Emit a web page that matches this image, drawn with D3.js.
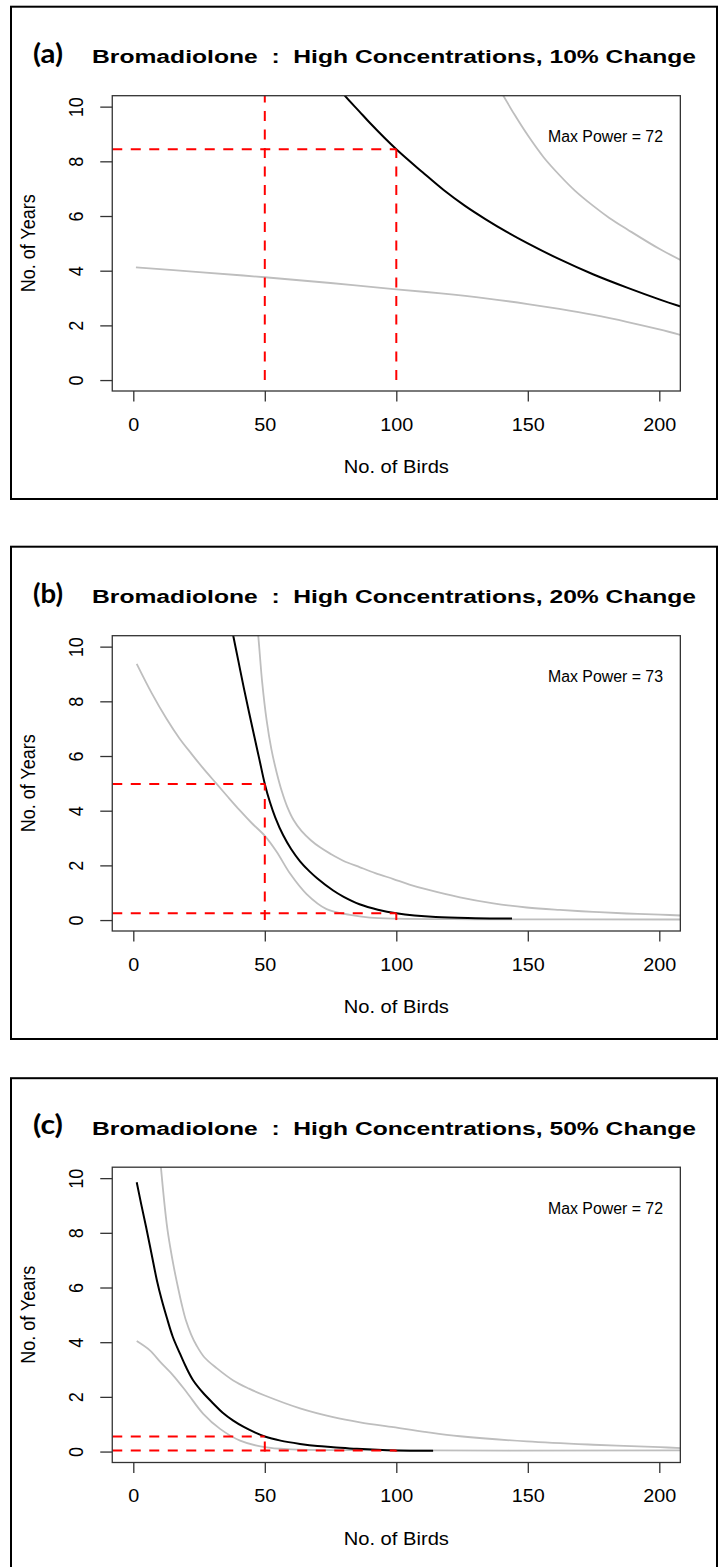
<!DOCTYPE html>
<html>
<head>
<meta charset="utf-8">
<script src="https://cdn.jsdelivr.net/npm/d3@7/dist/d3.min.js"></script>
<style>
  html, body { margin: 0; padding: 0; background: #fff; }
  svg { display: block; }
  text { font-family: "Liberation Sans", Arial, sans-serif; fill: #000; }
</style>
</head>
<body>
<svg id="chart" width="720" height="1567"></svg>
<script>
// Panel headings
const panelLetters = ["(a)", "(b)", "(c)"];
const panelTitles = [
  "Bromadiolone  :  High Concentrations, 10% Change",
  "Bromadiolone  :  High Concentrations, 20% Change",
  "Bromadiolone  :  High Concentrations, 50% Change"
];
const maxPower = [72, 73, 72];

// Axis ticks
const xTicks = [0, 50, 100, 150, 200];
const yTicks = [0, 2, 4, 6, 8, 10];

// (a) 10% change: [no. of birds, no. of years]
const meanA = [[75, 11.1], [80, 10.45], [86, 9.82], [90, 9.4], [100, 8.44], [110, 7.6], [118, 6.95],
  [126, 6.38], [134, 5.88], [142, 5.42], [150, 5.0], [162, 4.42], [175, 3.86], [188, 3.37], [200, 2.95], [210, 2.63]];
const upperA = [[137, 11.0], [140.7, 10.4], [145, 9.7], [150, 8.95], [156, 8.15], [162, 7.5], [168, 6.92],
  [175, 6.36], [181, 5.93], [188, 5.5], [200, 4.8], [210, 4.3]];
const lowerA = [[1, 4.12], [25, 3.95], [50, 3.76], [75, 3.55], [100, 3.32], [117, 3.17], [134, 2.99],
  [150, 2.78], [162, 2.6], [175, 2.38], [188, 2.12], [200, 1.85], [210, 1.6]];
const targetBirdsA = [50, 100];
const targetYearsA = [14, 8.44];

// (b) 20% change
const meanB = [[36, 11.35], [38, 10.4], [40, 9.45], [42, 8.5], [44, 7.6], [46, 6.72], [48, 5.85], [50, 4.98],
  [52, 4.3], [54, 3.75], [57, 3.1], [60, 2.6], [63.4, 2.15], [67, 1.78], [70, 1.52], [76, 1.08], [80, 0.85],
  [86, 0.58], [93, 0.38], [100, 0.25], [115, 0.11], [130, 0.07], [144, 0.06]];
const upperB = [[46.5, 11.3], [47.5, 10.4], [49, 8.7], [50.7, 7.3], [52.5, 6.25], [54.5, 5.4], [56.5, 4.7],
  [58.5, 4.15], [61, 3.65], [64, 3.25], [67.5, 2.92], [71, 2.66], [75, 2.42], [79.8, 2.17], [86.2, 1.93],
  [92, 1.72], [98.9, 1.5], [105, 1.3], [111.6, 1.12], [124.2, 0.83], [136.9, 0.61], [149.6, 0.46],
  [162.2, 0.37], [174.9, 0.30], [187.6, 0.24], [200.3, 0.2], [210, 0.16]];
const lowerB = [[1.3, 9.37], [7, 8.3], [12.7, 7.35], [17.5, 6.65], [22.2, 6.07], [27, 5.5], [31.7, 4.98],
  [36, 4.5], [40.6, 4.0], [45, 3.55], [50, 3.08], [54.5, 2.5], [59.6, 1.7], [65.9, 0.95], [73.5, 0.4],
  [82.4, 0.19], [90, 0.09], [100, 0.05], [130, 0.03], [210, 0.02]];
const targetBirdsB = [50, 100];
const targetYearsB = [4.98, 0.25];

// (c) 50% change
const meanC = [[1.3, 9.85], [3, 9.05], [5, 8.15], [7, 7.2], [9, 6.25], [10.8, 5.55], [12.7, 4.91], [15, 4.2],
  [17.8, 3.57], [20, 3.1], [22.8, 2.6], [26.5, 2.15], [30.5, 1.75], [34, 1.42], [38, 1.13], [42, 0.9],
  [46, 0.71], [50, 0.55], [56, 0.4], [63.4, 0.28], [70, 0.2], [76, 0.16], [85, 0.1], [100, 0.04], [114, 0.03]];
const upperC = [[10, 11.0], [10.5, 10.4], [12.7, 8.33], [14, 7.5], [15.5, 6.7], [17, 6.0], [18.5, 5.35],
  [20, 4.8], [22, 4.28], [24.1, 3.87], [27, 3.45], [31.7, 3.05], [38, 2.6], [44, 2.3], [50, 2.05],
  [63.4, 1.58], [76, 1.26], [86.2, 1.07], [98.9, 0.89], [111.6, 0.71], [124.2, 0.56], [149.6, 0.37],
  [174.9, 0.25], [200.3, 0.16], [210, 0.12]];
const lowerC = [[1.3, 4.04], [6.3, 3.7], [10.5, 3.25], [15.2, 2.78], [20.3, 2.17], [26.6, 1.38], [33, 0.83],
  [40.6, 0.4], [50, 0.16], [60, 0.08], [80, 0.05], [210, 0.04]];
const targetBirdsC = [50, 100];
const targetYearsC = [0.55, 0.04];

const panels = [
  { mean: meanA, upper: upperA, lower: lowerA, birds: targetBirdsA, years: targetYearsA },
  { mean: meanB, upper: upperB, lower: lowerB, birds: targetBirdsB, years: targetYearsB },
  { mean: meanC, upper: upperC, lower: lowerC, birds: targetBirdsC, years: targetYearsC }
];

const svg = d3.select("#chart");
const offsets = [0, 540, 1071.5];
const stretch = 1.1;

// Shared scales (R-style 4% padding around 0..200 and 0..10)
const x = d3.scaleLinear().domain([-8, 208]).range([112.26, 680.34]);
const y = d3.scaleLinear().domain([-0.4, 10.4]).range([391, 95.7]);

const line = d3.line()
  .x(d => x(d[0]))
  .y(d => y(d[1]))
  .curve(d3.curveCatmullRom.alpha(0.5));

panels.forEach((p, i) => {
  const g = svg.append("g").attr("transform", `translate(0,${offsets[i]})`);

  // outer frame
  g.append("rect")
    .attr("x", 11).attr("y", 6.7)
    .attr("width", 706).attr("height", i === 2 ? 600 : 492.3)
    .attr("fill", "none").attr("stroke", "#000").attr("stroke-width", 2);

  // headings
  g.append("text")
    .attr("x", 33).attr("y", 62.5)
    .style("font-family", "Lato, 'Open Sans', sans-serif")
    .style("font-weight", "bold")
    .style("font-size", "26px")
    .attr("textLength", 30).attr("lengthAdjust", "spacingAndGlyphs")
    .text(panelLetters[i]);

  g.append("text")
    .attr("x", 92).attr("y", 63)
    .style("font-weight", "bold")
    .style("font-size", "18px")
    .style("white-space", "pre")
    .attr("textLength", 604).attr("lengthAdjust", "spacingAndGlyphs")
    .text(panelTitles[i]);

  // clip for plot region
  const clipId = `clip-${i}`;
  g.append("clipPath").attr("id", clipId)
    .append("rect")
    .attr("x", x.range()[0]).attr("y", y.range()[1])
    .attr("width", x.range()[1] - x.range()[0])
    .attr("height", y.range()[0] - y.range()[1]);

  const plot = g.append("g").attr("clip-path", `url(#${clipId})`);

  plot.append("path").datum(p.lower)
    .attr("d", line).attr("fill", "none")
    .attr("stroke", "#bebebe").attr("stroke-width", 1.8);
  plot.append("path").datum(p.upper)
    .attr("d", line).attr("fill", "none")
    .attr("stroke", "#bebebe").attr("stroke-width", 1.8);
  plot.append("path").datum(p.mean)
    .attr("d", line).attr("fill", "none")
    .attr("stroke", "#000").attr("stroke-width", 2);

  // dashed guides from each target flock size to the years needed
  p.birds.forEach((b, k) => {
    const yr = p.years[k];
    plot.append("line")
      .attr("x1", x(-8)).attr("x2", x(b))
      .attr("y1", y(yr)).attr("y2", y(yr))
      .attr("stroke", "#ff0000").attr("stroke-width", 2)
      .attr("stroke-dasharray", "10,8.5");
    plot.append("line")
      .attr("x1", x(b)).attr("x2", x(b))
      .attr("y1", y(0)).attr("y2", y(yr))
      .attr("stroke", "#ff0000").attr("stroke-width", 2)
      .attr("stroke-dasharray", "10,8.5");
  });

  // plot box
  g.append("rect")
    .attr("x", x.range()[0]).attr("y", y.range()[1])
    .attr("width", x.range()[1] - x.range()[0])
    .attr("height", y.range()[0] - y.range()[1])
    .attr("fill", "none").attr("stroke", "#333").attr("stroke-width", 1.3);

  // x axis
  const gx = g.append("g")
    .attr("transform", `translate(0,${y.range()[0]})`)
    .call(d3.axisBottom(x).tickValues(xTicks).tickSize(10.5).tickFormat(d3.format("d")));
  gx.select(".domain").remove();
  gx.selectAll(".tick line").attr("stroke", "#333").attr("stroke-width", 1.3);
  gx.selectAll(".tick text")
    .attr("y", 40).attr("dy", null)
    .attr("transform", `scale(${stretch},1)`)
    .style("font-size", "18px")
    .style("font-family", "'Liberation Sans', Arial, sans-serif")
    .attr("fill", "#000");

  // y axis
  const gy = g.append("g")
    .attr("transform", `translate(${x.range()[0]},0)`)
    .call(d3.axisLeft(y).tickValues(yTicks).tickSize(12).tickFormat(d3.format("d")));
  gy.select(".domain").remove();
  gy.selectAll(".tick line").attr("stroke", "#333").attr("stroke-width", 1.3);
  gy.selectAll(".tick text")
    .attr("x", 0).attr("dy", null)
    .attr("text-anchor", "middle")
    .attr("transform", `translate(-29.3,0) scale(${stretch},1) rotate(-90)`)
    .style("font-size", "18px")
    .style("font-family", "'Liberation Sans', Arial, sans-serif")
    .attr("fill", "#000");

  // axis titles
  g.append("text")
    .attr("text-anchor", "middle")
    .attr("transform", `translate(${(x.range()[0] + x.range()[1]) / 2},473) scale(1.12,1)`)
    .style("font-size", "18px")
    .text("No. of Birds");

  g.append("text")
    .attr("text-anchor", "middle")
    .attr("transform", `translate(35,${(y.range()[0] + y.range()[1]) / 2}) scale(${stretch},1) rotate(-90)`)
    .style("font-size", "18px")
    .text("No. of Years");

  // annotation
  g.append("text")
    .attr("x", 663).attr("y", 142)
    .attr("text-anchor", "end")
    .style("font-size", "16px")
    .attr("textLength", 115).attr("lengthAdjust", "spacingAndGlyphs")
    .text(`Max Power = ${maxPower[i]}`);
});
</script>
</body>
</html>
